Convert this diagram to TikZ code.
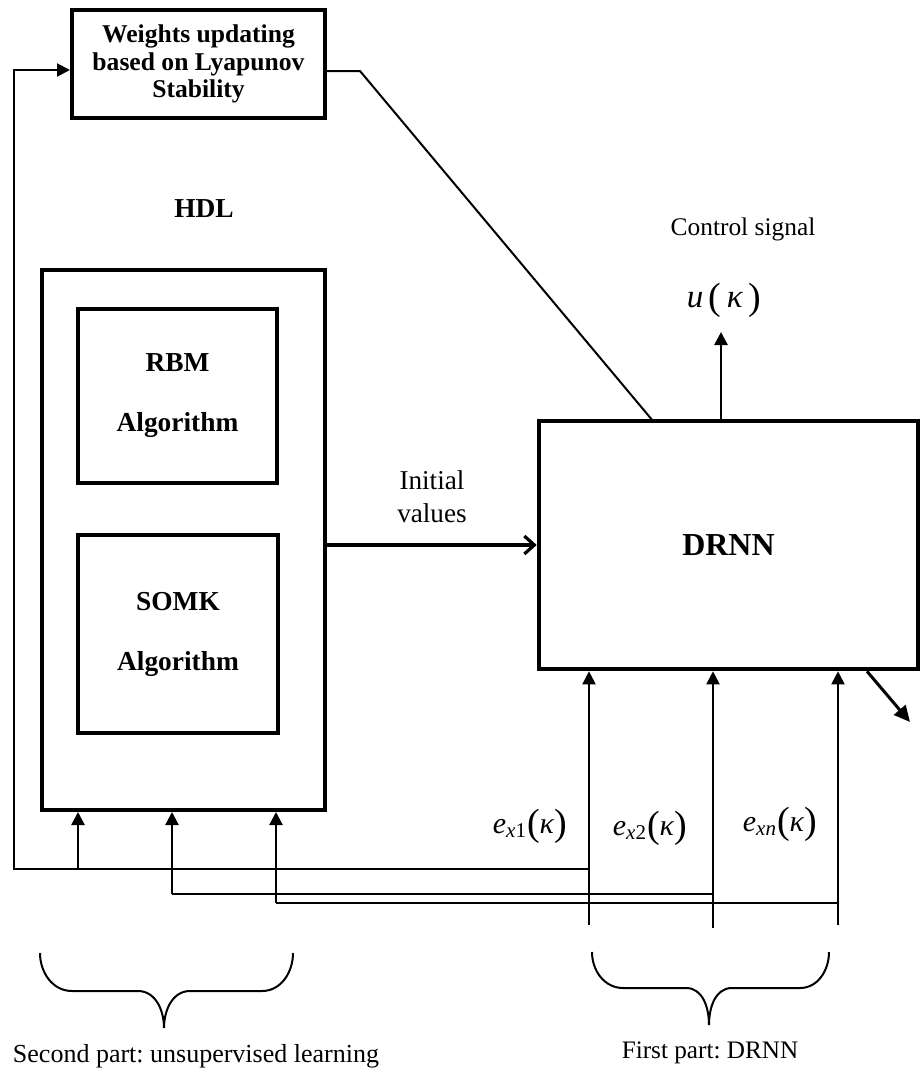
\documentclass[tikz,border=0pt]{standalone}
\usepackage{fontspec}
\setmainfont{Liberation Serif}
\usetikzlibrary{arrows.meta}
\frenchspacing
\newcommand\bigpar[1]{{\fontsize{19}{19}\selectfont\raisebox{-0.8pt}{#1}}}
\newcommand\elbl[1]{\textit{e}\textsubscript{#1}\bigpar{(}\textit{κ}\bigpar{)}}

\begin{document}
\begin{tikzpicture}[x=0.5pt,y=-0.5pt,
  box/.style={draw,line width=2pt,inner sep=0pt,align=center},
  thin/.style={line width=1pt},
  tip/.style={-{Triangle[length=6.5pt,width=6.5pt]}},
  boldtxt/.style={font=\fontsize{13.7}{30}\selectfont\bfseries}]
  \useasboundingbox (0,0) rectangle (922,1077);
  % boxes
  \node[box,minimum width=126.5pt,minimum height=54pt,
    font=\fontsize{12.8}{13.6}\selectfont\bfseries] (weights) at (198.5,64)
    {Weights updating\\based on Lyapunov\\Stability};
  \node[boldtxt] (hdltxt) at (204,209) {HDL};
  \node[box,minimum width=141.5pt,minimum height=270pt] (hdl) at (183.5,540) {};
  \node[box,boldtxt,minimum width=99.5pt,minimum height=87pt] (rbm) at (177.5,396) {RBM\\Algorithm};
  \node[box,boldtxt,minimum width=100pt,minimum height=99pt] (somk) at (178,634) {SOMK\\Algorithm};
  \node[box,line width=2.3pt,minimum width=189.5pt,minimum height=124pt,
    font=\fontsize{16}{19}\selectfont\bfseries] (drnn) at (728.5,545) {DRNN};
  % labels
  \node[align=center,font=\fontsize{13.6}{16.5}\selectfont] (iv) at (432,497) {Initial\\values};
  \node[font=\fontsize{12.7}{15}\selectfont] (ctrl) at (743,229) {Control signal};
  \node[font=\fontsize{16.5}{19}\selectfont] (uk) at (724,300)
    {\textit{u}\,\bigpar{(}\,\textit{κ}\,\bigpar{)}};
  \node[font=\fontsize{15}{18}\selectfont] (e1) at (530,826) {\elbl{\textit{x}1}};
  \node[font=\fontsize{15}{18}\selectfont] (e2) at (650,828) {\elbl{\textit{x}2}};
  \node[font=\fontsize{15}{18}\selectfont] (en) at (780,824) {\elbl{\textit{xn}}};
  \node[font=\fontsize{13}{15}\selectfont] (part2) at (196,1056) {Second part: unsupervised learning};
  \node[font=\fontsize{12.6}{15}\selectfont] (part1) at (710,1053) {First part: DRNN};
  % connectors
  \coordinate (wbend) at (360,71);
  \coordinate (wend) at (653,421);
  \draw[thin] (weights.east |- wbend) -- (wbend) -- (wend);
  \coordinate (uout) at (721,332);
  \draw[tip,line width=1.3pt] (drnn.north -| uout) -- (uout);
  \draw[line width=1.6pt,-{Straight Barb[length=5pt,width=9pt]}] (hdl.east |- drnn.west) -- (drnn.west);
  \path (drnn.south) ++(138.5,0) coordinate (dsrc);
  \coordinate (dout) at (910,722);
  \draw[line width=1.5pt,-{Triangle[length=8pt,width=7.5pt]}] (dsrc) -- (dout);
  \foreach \n/\x/\yb in {1/589/925,2/713/928,n/838/925}{
    \coordinate (ein\n) at (\x,\yb);
    \draw[tip,thin] (ein\n) -- (drnn.south -| ein\n);
  }
  % feedback to HDL and weights
  \coordinate (j1) at (589,869);
  \coordinate (j2) at (713,894);
  \coordinate (j3) at (838,903);
  \coordinate (lc) at (14,869);
  \coordinate (lt) at (14,70);
  \draw[thin,tip] (j1) -- (lc) -- (lt) -- (weights.west |- lt);
  \coordinate (h1) at (78,869);
  \coordinate (h2) at (172,894);
  \coordinate (h3) at (276,903);
  \draw[thin] (j2) -- (h2);
  \draw[thin] (j3) -- (h3);
  \foreach \h in {h1,h2,h3}
    \draw[tip,line width=1.2pt] (\h) -- (hdl.south -| \h);
  % braces
  \draw[thin] (40,953) to[out=-90,in=180] (72,991) -- (138,991) to[out=0,in=90] (164,1028)
    to[out=90,in=180] (190,991) -- (262,991) to[out=0,in=-90] (293,953);
  \draw[thin] (592,952) to[out=-90,in=180] (623,988) -- (686,988) to[out=0,in=90] (709,1025)
    to[out=90,in=180] (732,988) -- (800,988) to[out=0,in=-90] (829,952);
\end{tikzpicture}
\end{document}
